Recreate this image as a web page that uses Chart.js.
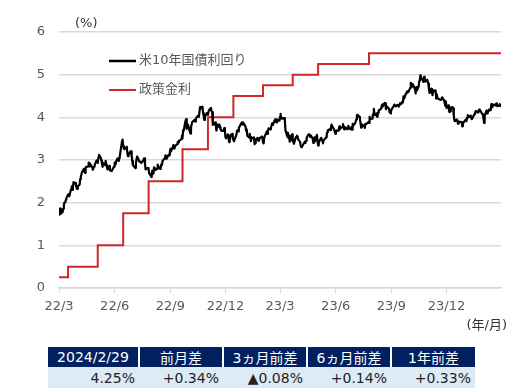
<!DOCTYPE html>
<html>
<head>
<meta charset="utf-8">
<script src="https://cdn.jsdelivr.net/npm/chart.js@4/dist/chart.umd.min.js"></script>
<style>
  body { margin: 0; background: #fff; }
  #wrap { position: relative; width: 529px; height: 389px; }
  #chart { position: absolute; left: 0; top: 0; }
  table {
    position: absolute; left: 48px; top: 347px;
    border-collapse: collapse;
    font-family: "DejaVu Sans", "Noto Sans CJK JP", sans-serif;
    font-size: 14px;
  }
  th { background: #002060; color: #fff; font-weight: normal; height: 20px; padding: 0; border-left: 2px solid #fff; }
  th:first-child { border-left: none; }
  td { background: #ddebf7; color: #222; height: 21px; padding: 0 4px 0 0; text-align: right; }
</style>
</head>
<body>
<div id="wrap">
  <canvas id="chart" width="529" height="335"></canvas>
  <table>
    <tr>
      <th style="width:90px">2024/2/29</th>
      <th style="width:82px">前月差</th>
      <th style="width:82px">3ヵ月前差</th>
      <th style="width:82px">6ヵ月前差</th>
      <th style="width:83px">1年前差</th>
    </tr>
    <tr>
      <td>4.25%</td><td>+0.34%</td><td>▲0.08%</td><td>+0.14%</td><td>+0.33%</td>
    </tr>
  </table>
</div>
<script>
// x axis ticks
const tickDates = ['2022-03-01', '2022-06-01', '2022-09-01', '2022-12-01', '2023-03-01', '2023-06-01', '2023-09-01', '2023-12-01'];
const tickLabels = ['22/3', '22/6', '22/9', '22/12', '23/3', '23/6', '23/9', '23/12'];
const yTicks = [0, 1, 2, 3, 4, 5, 6];
const startDate = '2022-03-01';
const endDate = '2024-02-29';

// policy rate (upper bound), value holds from each date
const policyDates = ['2022-03-01', '2022-03-16', '2022-05-04', '2022-06-15', '2022-07-27', '2022-09-21', '2022-11-02', '2022-12-14', '2023-02-01', '2023-03-22', '2023-05-03', '2023-07-26', '2024-02-29'];
const policyValues = [0.25, 0.5, 1.0, 1.75, 2.5, 3.25, 4.0, 4.5, 4.75, 5.0, 5.25, 5.5, 5.5];

// US 10y treasury yield
const yieldDates = [
  '2022-03-01','2022-03-02','2022-03-03','2022-03-04','2022-03-07','2022-03-08','2022-03-09','2022-03-10','2022-03-11','2022-03-14','2022-03-15','2022-03-16','2022-03-17','2022-03-18','2022-03-21','2022-03-22','2022-03-23','2022-03-24','2022-03-25','2022-03-28','2022-03-29','2022-03-30','2022-03-31',
  '2022-04-01','2022-04-04','2022-04-05','2022-04-06','2022-04-07','2022-04-08','2022-04-11','2022-04-12','2022-04-13','2022-04-14','2022-04-18','2022-04-19','2022-04-20','2022-04-21','2022-04-22','2022-04-25','2022-04-26','2022-04-27','2022-04-28','2022-04-29',
  '2022-05-02','2022-05-03','2022-05-04','2022-05-05','2022-05-06','2022-05-09','2022-05-10','2022-05-11','2022-05-12','2022-05-13','2022-05-16','2022-05-17','2022-05-18','2022-05-19','2022-05-20','2022-05-23','2022-05-24','2022-05-25','2022-05-26','2022-05-27','2022-05-31',
  '2022-06-01','2022-06-02','2022-06-03','2022-06-06','2022-06-07','2022-06-08','2022-06-09','2022-06-10','2022-06-13','2022-06-14','2022-06-15','2022-06-16','2022-06-17','2022-06-21','2022-06-22','2022-06-23','2022-06-24','2022-06-27','2022-06-28','2022-06-29','2022-06-30',
  '2022-07-01','2022-07-05','2022-07-06','2022-07-07','2022-07-08','2022-07-11','2022-07-12','2022-07-13','2022-07-14','2022-07-15','2022-07-18','2022-07-19','2022-07-20','2022-07-21','2022-07-22','2022-07-25','2022-07-26','2022-07-27','2022-07-28','2022-07-29',
  '2022-08-01','2022-08-02','2022-08-03','2022-08-04','2022-08-05','2022-08-08','2022-08-09','2022-08-10','2022-08-11','2022-08-12','2022-08-15','2022-08-16','2022-08-17','2022-08-18','2022-08-19','2022-08-22','2022-08-23','2022-08-24','2022-08-25','2022-08-26','2022-08-29','2022-08-30','2022-08-31',
  '2022-09-01','2022-09-02','2022-09-06','2022-09-07','2022-09-08','2022-09-09','2022-09-12','2022-09-13','2022-09-14','2022-09-15','2022-09-16','2022-09-19','2022-09-20','2022-09-21','2022-09-22','2022-09-23','2022-09-26','2022-09-27','2022-09-28','2022-09-29','2022-09-30',
  '2022-10-03','2022-10-04','2022-10-05','2022-10-06','2022-10-07','2022-10-11','2022-10-12','2022-10-13','2022-10-14','2022-10-17','2022-10-18','2022-10-19','2022-10-20','2022-10-21','2022-10-24','2022-10-25','2022-10-26','2022-10-27','2022-10-28','2022-10-31',
  '2022-11-01','2022-11-02','2022-11-03','2022-11-04','2022-11-07','2022-11-08','2022-11-09','2022-11-10','2022-11-14','2022-11-15','2022-11-16','2022-11-17','2022-11-18','2022-11-21','2022-11-22','2022-11-23','2022-11-25','2022-11-28','2022-11-29','2022-11-30',
  '2022-12-01','2022-12-02','2022-12-05','2022-12-06','2022-12-07','2022-12-08','2022-12-09','2022-12-12','2022-12-13','2022-12-14','2022-12-15','2022-12-16','2022-12-19','2022-12-20','2022-12-21','2022-12-22','2022-12-23','2022-12-27','2022-12-28','2022-12-29','2022-12-30',
  '2023-01-03','2023-01-04','2023-01-05','2023-01-06','2023-01-09','2023-01-10','2023-01-11','2023-01-12','2023-01-13','2023-01-17','2023-01-18','2023-01-19','2023-01-20','2023-01-23','2023-01-24','2023-01-25','2023-01-26','2023-01-27','2023-01-30','2023-01-31',
  '2023-02-01','2023-02-02','2023-02-03','2023-02-06','2023-02-07','2023-02-08','2023-02-09','2023-02-10','2023-02-13','2023-02-14','2023-02-15','2023-02-16','2023-02-17','2023-02-21','2023-02-22','2023-02-23','2023-02-24','2023-02-27','2023-02-28',
  '2023-03-01','2023-03-02','2023-03-03','2023-03-06','2023-03-07','2023-03-08','2023-03-09','2023-03-10','2023-03-13','2023-03-14','2023-03-15','2023-03-16','2023-03-17','2023-03-20','2023-03-21','2023-03-22','2023-03-23','2023-03-24','2023-03-27','2023-03-28','2023-03-29','2023-03-30','2023-03-31',
  '2023-04-03','2023-04-04','2023-04-05','2023-04-06','2023-04-10','2023-04-11','2023-04-12','2023-04-13','2023-04-14','2023-04-17','2023-04-18','2023-04-19','2023-04-20','2023-04-21','2023-04-24','2023-04-25','2023-04-26','2023-04-27','2023-04-28',
  '2023-05-01','2023-05-02','2023-05-03','2023-05-04','2023-05-05','2023-05-08','2023-05-09','2023-05-10','2023-05-11','2023-05-12','2023-05-15','2023-05-16','2023-05-17','2023-05-18','2023-05-19','2023-05-22','2023-05-23','2023-05-24','2023-05-25','2023-05-26','2023-05-30','2023-05-31',
  '2023-06-01','2023-06-02','2023-06-05','2023-06-06','2023-06-07','2023-06-08','2023-06-09','2023-06-12','2023-06-13','2023-06-14','2023-06-15','2023-06-16','2023-06-20','2023-06-21','2023-06-22','2023-06-23','2023-06-26','2023-06-27','2023-06-28','2023-06-29','2023-06-30',
  '2023-07-03','2023-07-05','2023-07-06','2023-07-07','2023-07-10','2023-07-11','2023-07-12','2023-07-13','2023-07-14','2023-07-17','2023-07-18','2023-07-19','2023-07-20','2023-07-21','2023-07-24','2023-07-25','2023-07-26','2023-07-27','2023-07-28','2023-07-31',
  '2023-08-01','2023-08-02','2023-08-03','2023-08-04','2023-08-07','2023-08-08','2023-08-09','2023-08-10','2023-08-11','2023-08-14','2023-08-15','2023-08-16','2023-08-17','2023-08-18','2023-08-21','2023-08-22','2023-08-23','2023-08-24','2023-08-25','2023-08-28','2023-08-29','2023-08-30','2023-08-31',
  '2023-09-01','2023-09-05','2023-09-06','2023-09-07','2023-09-08','2023-09-11','2023-09-12','2023-09-13','2023-09-14','2023-09-15','2023-09-18','2023-09-19','2023-09-20','2023-09-21','2023-09-22','2023-09-25','2023-09-26','2023-09-27','2023-09-28','2023-09-29',
  '2023-10-02','2023-10-03','2023-10-04','2023-10-05','2023-10-06','2023-10-10','2023-10-11','2023-10-12','2023-10-13','2023-10-16','2023-10-17','2023-10-18','2023-10-19','2023-10-20','2023-10-23','2023-10-24','2023-10-25','2023-10-26','2023-10-27','2023-10-30','2023-10-31',
  '2023-11-01','2023-11-02','2023-11-03','2023-11-06','2023-11-07','2023-11-08','2023-11-09','2023-11-10','2023-11-13','2023-11-14','2023-11-15','2023-11-16','2023-11-17','2023-11-20','2023-11-21','2023-11-22','2023-11-24','2023-11-27','2023-11-28','2023-11-29','2023-11-30',
  '2023-12-01','2023-12-04','2023-12-05','2023-12-06','2023-12-07','2023-12-08','2023-12-11','2023-12-12','2023-12-13','2023-12-14','2023-12-15','2023-12-18','2023-12-19','2023-12-20','2023-12-21','2023-12-22','2023-12-26','2023-12-27','2023-12-28','2023-12-29',
  '2024-01-02','2024-01-03','2024-01-04','2024-01-05','2024-01-08','2024-01-09','2024-01-10','2024-01-11','2024-01-12','2024-01-16','2024-01-17','2024-01-18','2024-01-19','2024-01-22','2024-01-23','2024-01-24','2024-01-25','2024-01-26','2024-01-29','2024-01-30','2024-01-31',
  '2024-02-01','2024-02-02','2024-02-05','2024-02-06','2024-02-07','2024-02-08','2024-02-09','2024-02-12','2024-02-13','2024-02-14','2024-02-15','2024-02-16','2024-02-20','2024-02-21','2024-02-22','2024-02-23','2024-02-26','2024-02-27','2024-02-28','2024-02-29'
];
const yieldValues = [
  1.72,1.86,1.86,1.74,1.78,1.86,1.95,2.00,2.00,2.13,2.16,2.19,2.20,2.15,2.32,2.38,2.30,2.37,2.48,2.46,2.40,2.35,2.32,
  2.39,2.42,2.55,2.61,2.66,2.72,2.79,2.72,2.70,2.83,2.85,2.94,2.85,2.92,2.90,2.82,2.77,2.82,2.85,2.89,
  2.99,2.97,2.93,3.05,3.12,3.05,2.99,2.91,2.84,2.93,2.88,2.98,2.89,2.85,2.78,2.86,2.76,2.75,2.75,2.74,2.85,
  2.94,2.91,2.96,3.04,2.98,3.03,3.04,3.15,3.43,3.48,3.33,3.28,3.25,3.31,3.16,3.09,3.13,3.20,3.20,3.10,2.98,
  2.88,2.81,2.93,3.01,3.08,2.99,2.96,2.96,2.96,2.93,2.99,3.03,3.04,2.91,2.78,2.81,2.81,2.78,2.68,2.67,
  2.60,2.75,2.73,2.68,2.83,2.77,2.79,2.79,2.89,2.85,2.79,2.82,2.90,2.88,2.98,3.03,3.05,3.11,3.03,3.04,3.12,3.11,3.19,
  3.26,3.20,3.35,3.27,3.29,3.33,3.37,3.42,3.41,3.45,3.45,3.49,3.57,3.51,3.70,3.69,3.92,3.96,3.73,3.79,3.83,
  3.67,3.62,3.76,3.83,3.89,3.94,3.90,3.95,4.00,4.04,4.01,4.13,4.24,4.21,4.25,4.10,4.04,3.94,4.02,4.10,
  4.07,4.06,4.14,4.17,4.22,4.14,4.12,3.82,3.88,3.80,3.69,3.77,3.83,3.83,3.76,3.71,3.68,3.69,3.75,3.68,
  3.53,3.51,3.60,3.53,3.42,3.48,3.58,3.61,3.50,3.48,3.44,3.48,3.59,3.69,3.68,3.67,3.75,3.86,3.88,3.83,3.88,
  3.79,3.69,3.72,3.57,3.53,3.61,3.54,3.44,3.51,3.53,3.37,3.40,3.48,3.52,3.46,3.45,3.49,3.52,3.55,3.52,
  3.41,3.39,3.53,3.63,3.67,3.61,3.66,3.74,3.72,3.76,3.81,3.86,3.82,3.95,3.92,3.88,3.95,3.92,3.92,
  4.01,4.08,3.97,3.98,3.97,3.98,3.93,3.70,3.55,3.64,3.51,3.57,3.43,3.48,3.60,3.48,3.42,3.38,3.53,3.55,3.57,3.55,3.48,
  3.43,3.35,3.31,3.30,3.41,3.43,3.40,3.45,3.52,3.60,3.59,3.60,3.54,3.57,3.50,3.40,3.45,3.53,3.44,
  3.59,3.44,3.34,3.39,3.44,3.52,3.52,3.45,3.39,3.46,3.51,3.53,3.57,3.65,3.70,3.72,3.70,3.74,3.83,3.80,3.69,3.64,
  3.61,3.69,3.69,3.70,3.79,3.72,3.75,3.77,3.84,3.79,3.72,3.77,3.72,3.72,3.80,3.74,3.72,3.77,3.71,3.85,3.81,
  3.86,3.95,4.05,4.06,4.01,3.97,3.86,3.76,3.83,3.81,3.80,3.75,3.85,3.84,3.87,3.89,3.87,4.01,3.96,3.97,
  4.05,4.08,4.20,4.05,4.09,4.02,4.01,4.11,4.16,4.19,4.22,4.28,4.30,4.26,4.34,4.33,4.19,4.24,4.25,4.20,4.12,4.12,4.09,
  4.18,4.27,4.30,4.27,4.26,4.29,4.28,4.25,4.29,4.33,4.32,4.37,4.35,4.49,4.44,4.56,4.56,4.61,4.59,4.59,
  4.69,4.81,4.73,4.72,4.78,4.66,4.56,4.71,4.63,4.72,4.85,4.90,4.99,4.93,4.86,4.83,4.95,4.86,4.84,4.88,4.88,
  4.79,4.67,4.57,4.67,4.58,4.52,4.63,4.61,4.63,4.44,4.54,4.45,4.44,4.42,4.41,4.41,4.47,4.39,4.34,4.27,4.37,
  4.22,4.28,4.17,4.12,4.14,4.23,4.24,4.21,4.04,3.93,3.91,3.95,3.92,3.85,3.89,3.90,3.89,3.79,3.84,3.88,
  3.95,3.91,3.99,4.05,4.01,4.02,4.04,3.98,3.96,4.07,4.10,4.14,4.15,4.11,4.14,4.18,4.14,4.15,4.08,4.06,3.99,
  3.87,4.03,4.16,4.09,4.10,4.15,4.18,4.17,4.31,4.27,4.24,4.30,4.28,4.32,4.33,4.26,4.28,4.31,4.27,4.25
];

const seriesNames = ['米10年国債利回り', '政策金利'];
const seriesColors = ['#000000', '#d0262b'];

const FONT = '"DejaVu Sans", "Noto Sans CJK JP", sans-serif';
const TEXT = '#595959';

function dayOf(s) {
  const p = s.split('-');
  return (Date.UTC(+p[0], +p[1] - 1, +p[2]) - Date.UTC(2022, 2, 1)) / 86400000;
}

const yieldPoints = yieldDates.map((d, i) => ({ x: dayOf(d), y: yieldValues[i] }));
const policyPoints = policyDates.map((d, i) => ({ x: dayOf(d), y: policyValues[i] }));

// legend and unit labels drawn inside the canvas
const extras = {
  id: 'extras',
  afterDraw(chart) {
    const ctx = chart.ctx;
    const a = chart.chartArea;
    ctx.save();
    ctx.font = '13px ' + FONT;
    ctx.fillStyle = '#333';
    ctx.textBaseline = 'middle';
    ctx.textAlign = 'left';
    ctx.fillText('(%)', a.left + 16, 24);
    ctx.textAlign = 'right';
    ctx.fillText('(年/月)', a.right + 6, 326);
    ctx.textAlign = 'left';
    const rows = [61, 90];
    seriesNames.forEach((name, i) => {
      ctx.strokeStyle = seriesColors[i];
      ctx.lineWidth = i === 0 ? 2.5 : 2;
      ctx.beginPath();
      ctx.moveTo(a.left + 50, rows[i]);
      ctx.lineTo(a.left + 77, rows[i]);
      ctx.stroke();
      ctx.fillStyle = TEXT;
      ctx.fillText(name, a.left + 80, rows[i]);
    });
    ctx.restore();
  }
};

new Chart(document.getElementById('chart'), {
  type: 'line',
  data: {
    datasets: [
      {
        label: seriesNames[0],
        data: yieldPoints,
        borderColor: seriesColors[0],
        borderWidth: 2.2,
        borderJoinStyle: 'round',
        pointRadius: 0,
        tension: 0
      },
      {
        label: seriesNames[1],
        data: policyPoints,
        borderColor: seriesColors[1],
        borderWidth: 2,
        pointRadius: 0,
        stepped: true
      }
    ]
  },
  options: {
    responsive: false,
    animation: false,
    devicePixelRatio: 1,
    layout: { padding: { top: 32, right: 28, left: 0, bottom: 0 } },
    plugins: {
      legend: { display: false },
      tooltip: { enabled: false }
    },
    scales: {
      x: {
        type: 'linear',
        min: dayOf(startDate),
        max: dayOf(endDate),
        afterBuildTicks: scale => { scale.ticks = tickDates.map(d => ({ value: dayOf(d) })); },
        afterFit: scale => { scale.height = 47; },
        grid: { drawOnChartArea: false, drawTicks: true, tickLength: 5, color: '#d9d9d9' },
        border: { display: true, color: '#d9d9d9', width: 1.5 },
        ticks: {
          autoSkip: false,
          maxRotation: 0,
          padding: 6,
          color: TEXT,
          font: { family: FONT, size: 13 },
          callback: (value, index) => tickLabels[index]
        }
      },
      y: {
        min: 0,
        max: 6,
        afterBuildTicks: scale => { scale.ticks = yTicks.map(v => ({ value: v })); },
        afterFit: scale => { scale.width = 59; },
        grid: { color: '#d9d9d9', lineWidth: 1.5, drawTicks: false },
        border: { display: false },
        ticks: {
          padding: 14,
          color: TEXT,
          font: { family: FONT, size: 13 }
        }
      }
    }
  },
  plugins: [extras]
});
</script>
</body>
</html>
